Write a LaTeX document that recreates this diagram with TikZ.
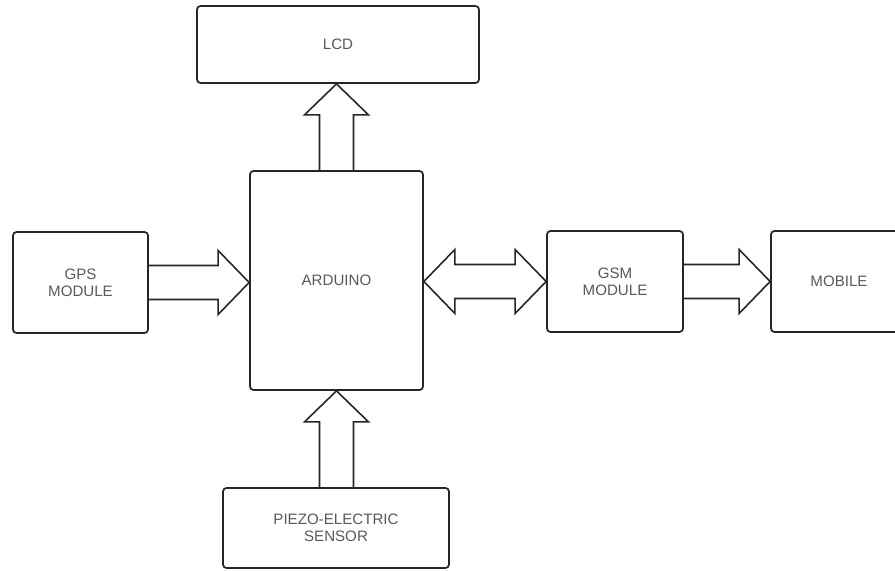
\documentclass[tikz,border=0pt]{standalone}
\usepackage{fontspec}
\setmainfont{Liberation Sans}
\usetikzlibrary{calc}

\begin{document}
\begin{tikzpicture}[
    block/.style={
      rectangle,
      rounded corners=2pt,
      draw=black!85,
      line width=1pt,
      fill=white,
      align=center,
      text=black!65,
      font=\fontsize{8.6}{9.7}\selectfont},
    fatarrow/.style={
      draw=black!85, line width=0.9pt, line join=miter,
      to path={let \p1=($(\tikztotarget)!0.62cm!(\tikztostart)$) in
        ($(\tikztostart)!0.34cm!90:(\tikztotarget)$)
        -- ($(\p1)!0.34cm!90:(\tikztotarget)$)
        -- ($(\p1)!0.64cm!90:(\tikztotarget)$)
        -- (\tikztotarget)
        -- ($(\p1)!0.64cm!-90:(\tikztotarget)$)
        -- ($(\p1)!0.34cm!-90:(\tikztotarget)$)
        -- ($(\tikztostart)!0.34cm!-90:(\tikztotarget)$)}},
    fatboth/.style={
      draw=black!85, line width=0.9pt, line join=miter,
      to path={let \p1=($(\tikztostart)!0.62cm!(\tikztotarget)$),
                   \p2=($(\tikztotarget)!0.62cm!(\tikztostart)$) in
        -- ($(\p1)!0.64cm!90:(\tikztotarget)$)
        -- ($(\p1)!0.34cm!90:(\tikztotarget)$)
        -- ($(\p2)!0.34cm!90:(\tikztotarget)$)
        -- ($(\p2)!0.64cm!90:(\tikztotarget)$)
        -- (\tikztotarget)
        -- ($(\p2)!0.64cm!-90:(\tikztotarget)$)
        -- ($(\p2)!0.34cm!-90:(\tikztotarget)$)
        -- ($(\p1)!0.34cm!-90:(\tikztotarget)$)
        -- ($(\p1)!0.64cm!-90:(\tikztotarget)$)
        -- cycle}}
    ]

  \useasboundingbox (0,0) rectangle (17.9,11.4);

  \node at (6.76,10.51) (lcd) [block, minimum width=5.64cm, minimum height=1.54cm] {LCD};

  \node at (6.73,5.79) (arduino) [block, minimum width=3.46cm, minimum height=4.38cm] {ARDUINO};

  \node at (1.61,5.75) (gps) [block, minimum width=2.70cm, minimum height=2.02cm] {GPS\\MODULE};

  \node at (12.30,5.77) (gsm) [block, minimum width=2.72cm, minimum height=2.02cm] {GSM\\MODULE};

  \node at (16.78,5.77) (mobile) [block, minimum width=2.72cm, minimum height=2.02cm] {MOBILE};

  \node at (6.72,0.84) (piezo) [block, minimum width=4.52cm, minimum height=1.6cm] {PIEZO-ELECTRIC\\SENSOR};

  \path (gps.east) edge [fatarrow] (gps.east -| arduino.west);
  \path (arduino.north) edge [fatarrow] (arduino.north |- lcd.south);
  \path (arduino.south |- piezo.north) edge [fatarrow] (arduino.south);
  \path (arduino.east |- gsm.west) edge [fatboth] (gsm.west);
  \path (gsm.east) edge [fatarrow] (mobile.west);

\end{tikzpicture}
\end{document}
